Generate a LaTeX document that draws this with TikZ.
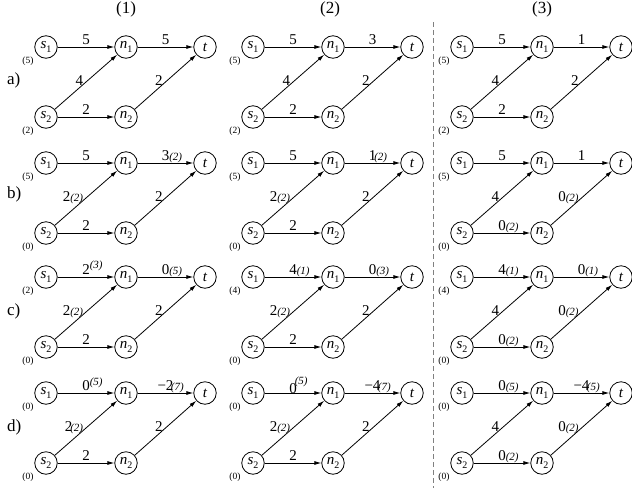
\documentclass[tikz,border=0pt]{standalone}
\usepackage{fontspec}
\setmainfont{Liberation Serif}
\usetikzlibrary{arrows.meta}
\newcommand\nd[2]{\textit{#1}\raisebox{-3.5pt}{\fontsize{10}{10}\selectfont #2}}
\newcommand\sm[1]{{\fontsize{11}{11}\selectfont\itshape(#1)}}
\tikzset{
  vert/.style={circle, draw, line width=0.8pt, minimum size=22.5pt, inner sep=0pt, font=\fontsize{15}{15}\selectfont},
  side/.style={inner sep=0pt, font=\fontsize{9.5}{9.5}\selectfont},
  edge/.style={line width=0.8pt, -{Latex[length=7pt,width=4pt]}},
  hl/.style={midway, anchor=base, yshift=2.5pt, inner sep=0pt, font=\fontsize{15}{15}\selectfont},
  dl/.style={midway, anchor=base east, xshift=-2.5pt, yshift=-3.5pt, inner sep=0pt, font=\fontsize{15}{15}\selectfont},
  big/.style={inner sep=0pt, font=\fontsize{17}{17}\selectfont},
}
\newcommand\panel[5]{%
  \node[vert] (#3s1) at (#1,#2) {\nd{s}{1}};
  \node[vert] (#3n1) at (#1+80,#2) {\nd{n}{1}};
  \node[vert] (#3t) at (#1+159,#2) {\textit{t}};
  \node[vert] (#3s2) at (#1,#2+70) {\nd{s}{2}};
  \node[vert] (#3n2) at (#1+80,#2+70) {\nd{n}{2}};
  \node[side] (#3l1) at (#1-18,#2+14) {(#4)};
  \node[side] (#3l2) at (#1-18,#2+84) {(#5)};
}
\newcommand\edges[6]{%
  \draw[edge] (#1s1) -- node[hl]{#2} (#1n1);
  \draw[edge] (#1n1) -- node[hl]{#3} (#1t);
  \draw[edge] (#1s2) -- node[dl]{#4} (#1n1);
  \draw[edge] (#1n2) -- node[dl]{#5} (#1t);
  \draw[edge] (#1s2) -- node[hl]{#6} (#1n2);
}
\begin{document}
\begin{tikzpicture}[x=1pt,y=-1pt]
\useasboundingbox (0,0) rectangle (632,488);
% headers
\node[big] (h1) at (126,9.5) {(1)};
\node[big] (h2) at (330,9.5) {(2)};
\node[big] (h3) at (542,9.5) {(3)};
% row labels
\node[big, anchor=west] (ra) at (7,80) {a)};
\node[big, anchor=west] (rb) at (7,194) {b)};
\node[big, anchor=west] (rc) at (7,311) {c)};
\node[big, anchor=west] (rd) at (7,427) {d)};
% separator
\coordinate (dtop) at (433,22);
\coordinate (dbot) at (433,488);
\draw[gray, line width=0.8pt, dash pattern=on 5pt off 3pt] (dtop) -- (dbot);
% row a
\panel{46}{47}{a1}{5}{2}
\edges{a1}{5}{5}{4}{2}{2}
\panel{253}{47}{a2}{5}{2}
\edges{a2}{5}{3}{4}{2}{2}
\panel{462}{47}{a3}{5}{2}
\edges{a3}{5}{1}{4}{2}{2}
% row b
\panel{46}{163}{b1}{5}{0}
\edges{b1}{5}{3\rlap{\sm{2}}}{2\sm{2}}{2}{2}
\panel{253}{163}{b2}{5}{0}
\edges{b2}{5}{1\rlap{\hspace{-2pt}\sm{2}}}{2\sm{2}}{2}{2}
\panel{462}{163}{b3}{5}{0}
\edges{b3}{5}{1}{4}{0\sm{2}}{0\rlap{\sm{2}}}
% row c
\panel{46}{277}{c1}{2}{0}
\edges{c1}{2\rlap{\raisebox{6pt}{\sm{3}}}}{0\rlap{\sm{5}}}{2\sm{2}}{2}{2}
\panel{253}{277}{c2}{4}{0}
\edges{c2}{4\rlap{\sm{1}}}{0\rlap{\sm{3}}}{2\sm{2}}{2}{2}
\panel{462}{277}{c3}{4}{0}
\edges{c3}{4\rlap{\sm{1}}}{0\rlap{\sm{1}}}{4}{0\sm{2}}{0\rlap{\sm{2}}}
% row d
\panel{46}{393}{d1}{0}{0}
\edges{d1}{0\rlap{\raisebox{5pt}{\sm{5}}}}{−2\rlap{\hspace{-2.5pt}\sm{7}}}{2\hspace{-2pt}\sm{2}}{2}{2}
\panel{253}{393}{d2}{0}{0}
\edges{d2}{\raisebox{-2.5pt}{0\rlap{\hspace{-2pt}\raisebox{9pt}{\sm{5}}}}}{−4\rlap{\hspace{-2.5pt}\sm{7}}}{2\sm{2}}{2}{2}
\panel{462}{393}{d3}{0}{0}
\edges{d3}{0\rlap{\sm{5}}}{−4\rlap{\hspace{-2.5pt}\sm{5}}}{4}{0\sm{2}}{0\rlap{\sm{2}}}
\end{tikzpicture}
\end{document}
